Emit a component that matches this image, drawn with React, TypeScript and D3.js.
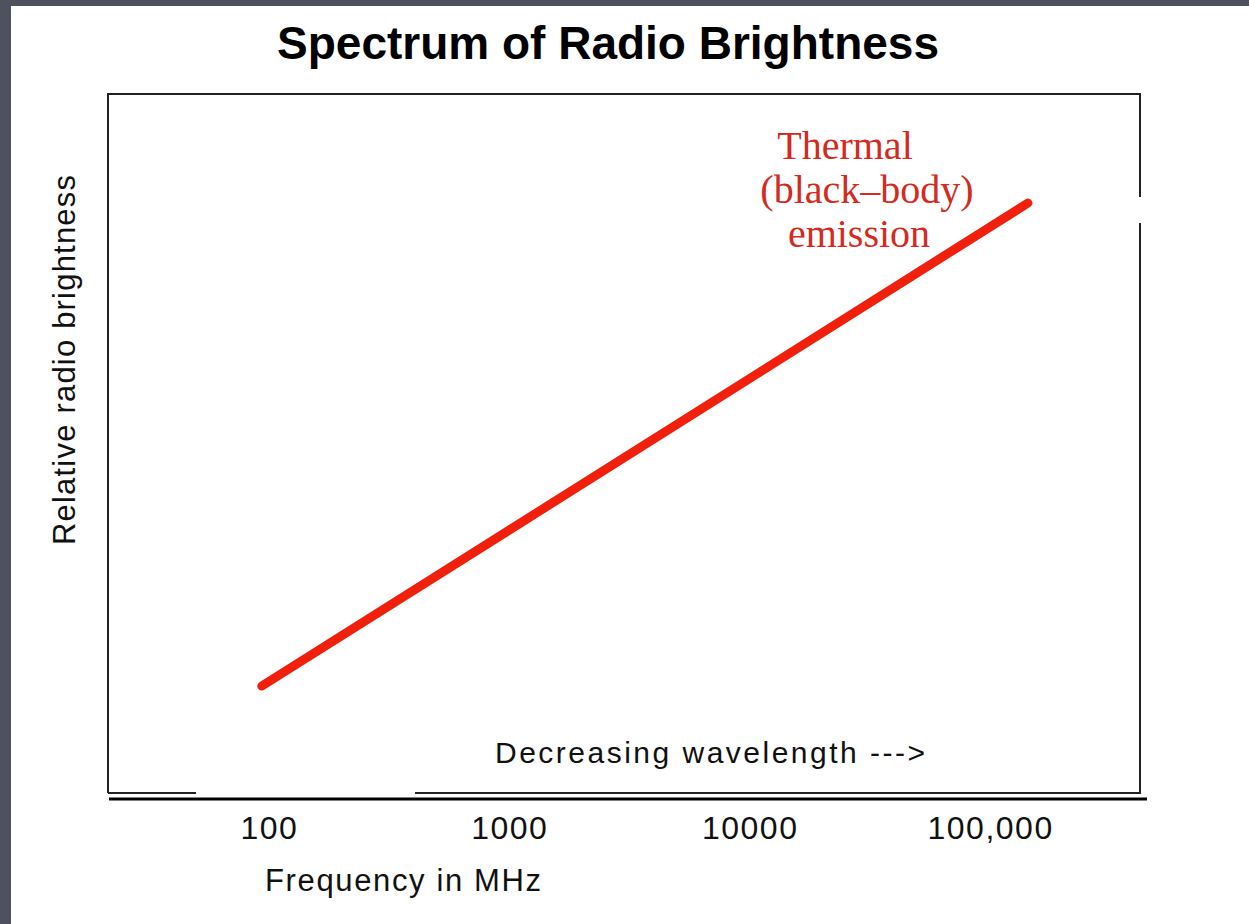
import React from "react";
import * as d3 from "d3";

const W = 1249;
const H = 924;

// Data
const frequencies = [93, 143000]; // MHz, ends of the thermal line
const brightness = [15.3, 84.4]; // relative units (0–100)
const tickValues = [100, 1000, 10000, 100000];
const tickLabels = ["100", "1000", "10000", "100,000"];
const seriesLabel = ["Thermal", "(black\u2013body)", "emission"];

const title = "Spectrum of Radio Brightness";
const xTitle = "Frequency in MHz";
const yTitle = "Relative radio brightness";
const note = "Decreasing wavelength --->";

export default function App() {
  const box = { left: 108, top: 94, right: 1140, bottom: 793 };
  const x = d3.scaleLog().domain([100, 100000]).range([269.4, 990.6]);
  const y = d3.scaleLinear().domain([0, 100]).range([box.bottom, box.top]);

  const pts: [number, number][] = frequencies.map((f, i) => [f, brightness[i]]);
  const line = d3
    .line<[number, number]>()
    .x((d) => x(d[0]))
    .y((d) => y(d[1]));

  // Frame (with the gaps present in the original image)
  const frame = [
    `M${box.left},${box.bottom}V${box.top}H${box.right}V197`,
    `M${box.right},223V${box.bottom}H415`,
    `M196,${box.bottom}H${box.left}`,
  ].join("");

  const sans = "Liberation Sans, Arial, sans-serif";
  const serif = "Liberation Serif, 'Times New Roman', serif";

  return (
    <svg
      width={W}
      height={H}
      style={{ position: "absolute", left: 0, top: 0, display: "block" }}
    >
      <rect x={0} y={0} width={W} height={H} fill="#4d525e" />
      <rect x={11} y={6} width={W - 11} height={H - 6} fill="#ffffff" />

      <text
        x={608}
        y={59}
        textAnchor="middle"
        fontFamily={sans}
        fontWeight="bold"
        fontSize={46}
        fill="#000"
      >
        {title}
      </text>

      <path d={frame} fill="none" stroke="#222" strokeWidth={2} />
      <line x1={109} x2={1147} y1={799} y2={799} stroke="#000" strokeWidth={3} />

      {tickValues.map((v, i) => (
        <text
          key={v}
          x={x(v)}
          y={839}
          textAnchor="middle"
          fontFamily={sans}
          fontSize={32}
          letterSpacing={1.5}
          fill="#111"
        >
          {tickLabels[i]}
        </text>
      ))}

      <text
        x={403}
        y={891}
        textAnchor="middle"
        fontFamily={sans}
        fontSize={31}
        textLength={276}
        lengthAdjust="spacing"
        fill="#111"
      >
        {xTitle}
      </text>

      <text
        transform="translate(75,360) rotate(-90)"
        textAnchor="middle"
        fontFamily={sans}
        fontSize={31}
        textLength={370}
        lengthAdjust="spacing"
        fill="#111"
      >
        {yTitle}
      </text>

      <text
        x={495}
        y={763}
        fontFamily={sans}
        fontSize={30}
        textLength={430}
        lengthAdjust="spacing"
        fill="#111"
      >
        {note}
      </text>

      <path
        d={line(pts) || ""}
        fill="none"
        stroke="#f0200c"
        strokeWidth={9}
        strokeLinecap="round"
      />

      {seriesLabel.map((s, i) => (
        <text
          key={s}
          x={[845, 867, 859][i]}
          y={159 + i * 44}
          textAnchor="middle"
          fontFamily={serif}
          fontSize={40}
          fill="#d42a20"
        >
          {s}
        </text>
      ))}
    </svg>
  );
}
